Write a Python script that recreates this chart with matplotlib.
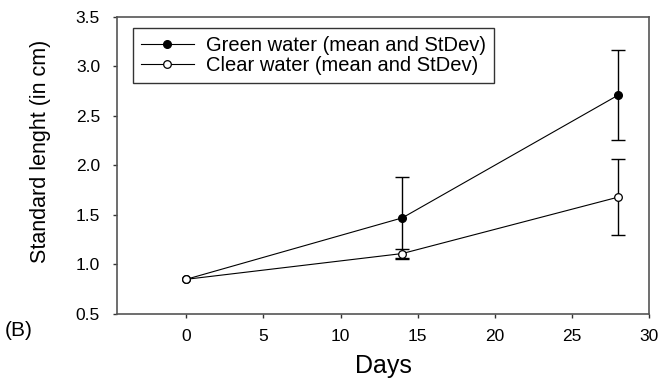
import matplotlib
matplotlib.use("Agg")
import matplotlib.pyplot as plt

days = [0, 14, 28]
green_mean = [0.85, 1.47, 2.71]
green_sd = [0.0, 0.41, 0.45]
clear_mean = [0.85, 1.11, 1.68]
clear_sd = [0.0, 0.045, 0.385]

x_ticks = [0, 5, 10, 15, 20, 25, 30]
y_ticks = [0.5, 1.0, 1.5, 2.0, 2.5, 3.0, 3.5]

plt.rcParams['font.family'] = ['Liberation Sans', 'DejaVu Sans']

fig = plt.figure(figsize=(6.61, 3.79), dpi=100)
ax = fig.add_axes([116.7 / 661, 1 - 314 / 379, (649.3 - 116.7) / 661, (314 - 16.7) / 379])


def with_bars(x, m, sd):
    # day 0 has no visible error bar
    keep = [i for i in range(len(x)) if sd[i] > 0]
    return [x[i] for i in keep], [m[i] for i in keep], [sd[i] for i in keep]


# green water: filled dots
gx, gm, gs = with_bars(days, green_mean, green_sd)
ax.errorbar(gx, gm, yerr=gs, fmt='none', ecolor='black',
            elinewidth=1.0, capsize=5, capthick=1.0, zorder=2)
ax.plot(days, green_mean, color='black', lw=0.8, marker='o', ms=5.5,
        mfc='black', mec='black', label='Green water (mean and StDev)', zorder=3)

# clear water: open dots
cx, cm, cs = with_bars(days, clear_mean, clear_sd)
ax.errorbar(cx, cm, yerr=cs, fmt='none', ecolor='black',
            elinewidth=1.0, capsize=5, capthick=1.0, zorder=2)
ax.plot(days, clear_mean, color='black', lw=0.8, marker='o', ms=5.5,
        mfc='white', mec='black', mew=0.9, label='Clear water (mean and StDev)', zorder=4)

ax.set_xlim(-4.5, 30)
ax.set_ylim(0.5, 3.5)
ax.set_xticks(x_ticks)
ax.set_yticks(y_ticks)
ax.set_yticklabels([f"{v:.1f}" for v in y_ticks])

for s in ax.spines.values():
    s.set_color('#555555')
    s.set_linewidth(1.2)
ax.tick_params(direction='out', length=3, width=1, color='#333333',
               labelsize=12.5, top=False, right=False)
ax.tick_params(axis='x', pad=8)
ax.tick_params(axis='y', pad=9)

ax.set_xlabel('Days', fontsize=18, labelpad=7)
ax.set_ylabel('Standard lenght (in cm)', fontsize=15.5, labelpad=18)
ax.yaxis.label.set_y(0.548)

fig.text(5 / 661, 1 - 330 / 379, '(B)', fontsize=15, ha='left', va='center')

leg = ax.legend(loc='upper left', bbox_to_anchor=(0.031, 0.962), fontsize=14.5,
                frameon=True, fancybox=False, edgecolor='black', borderpad=0.4,
                handlelength=2.6, handletextpad=0.6, labelspacing=0.05,
                borderaxespad=0)
leg.get_frame().set_linewidth(1.0)

fig.savefig('out.png', dpi=100)
